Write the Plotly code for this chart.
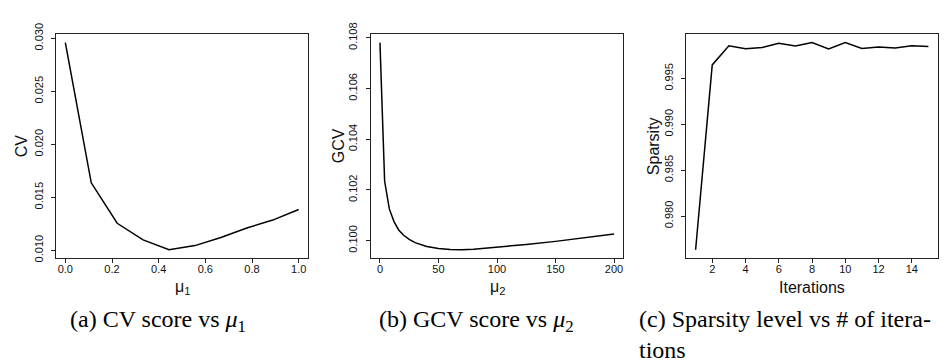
import plotly.graph_objects as go

# ---- data ----
mu1 = [0.0, 1/9, 2/9, 3/9, 4/9, 5/9, 6/9, 7/9, 8/9, 1.0]
cv = [0.0296, 0.01637, 0.01255, 0.01098, 0.01005, 0.01044, 0.0112, 0.0121, 0.01285, 0.01385]

mu2 = [0, 4, 8, 12, 16, 20, 25, 30, 40, 50, 60, 70, 80, 100, 125, 150, 175, 200]
gcv = [0.10781, 0.10234, 0.10125, 0.10075, 0.10042, 0.10022, 0.10005, 0.09992, 0.09977,
       0.09969, 0.09965, 0.09964, 0.09966, 0.09974, 0.09985, 0.09997, 0.10011, 0.10026]

iters = list(range(1, 16))
sparsity = [0.97634, 0.99647, 0.99856, 0.99823, 0.99838, 0.99883, 0.99852, 0.99890,
            0.99820, 0.99890, 0.99827, 0.99841, 0.99831, 0.99855, 0.99848]

x_ticks_a = [0.0, 0.2, 0.4, 0.6, 0.8, 1.0]
y_ticks_a = [0.010, 0.015, 0.020, 0.025, 0.030]
x_ticks_b = [0, 50, 100, 150, 200]
y_ticks_b = [0.100, 0.102, 0.104, 0.106, 0.108]
x_ticks_c = [2, 4, 6, 8, 10, 12, 14]
y_ticks_c = [0.980, 0.985, 0.990, 0.995]

captions = ["(a) CV score vs <i>μ</i><sub>1</sub>",
            "(b) GCV score vs <i>μ</i><sub>2</sub>",
            "(c) Sparsity level vs # of itera-<br>tions"]

W, H = 951, 363

def px(x):
    return x / W

def py(y):
    return 1 - y / H

fig = go.Figure()
line = dict(color="black", width=1.5)
fig.add_trace(go.Scatter(x=mu1, y=cv, mode="lines", line=line, xaxis="x", yaxis="y"))
fig.add_trace(go.Scatter(x=mu2, y=gcv, mode="lines", line=line, xaxis="x2", yaxis="y2"))
fig.add_trace(go.Scatter(x=iters, y=sparsity, mode="lines", line=line, xaxis="x3", yaxis="y3"))

def rng(vals):
    a, b = min(vals), max(vals)
    d = (b - a) * 0.04
    return [a - d, b + d]

ydom = [py(249), py(15)]
tickfont = dict(family="Liberation Sans, Arial", size=11, color="#111")
common_x = dict(showline=True, linecolor="#222", linewidth=1, mirror=True, ticks="outside",
                ticklen=4, tickcolor="#222", showgrid=False, zeroline=False, tickfont=tickfont,
                ticklabelstandoff=-3)
common_y = dict(common_x)
common_y["tickangle"] = -90
common_y["ticklabelstandoff"] = 4

fig.update_layout(
    width=W, height=H, margin=dict(l=0, r=0, t=0, b=0),
    plot_bgcolor="white", paper_bgcolor="white", showlegend=False,
    xaxis=dict(common_x, domain=[px(48), px(300)], range=rng(mu1), tickvals=x_ticks_a,
               ticktext=[f"{v:.1f}" for v in x_ticks_a], anchor="y"),
    yaxis=dict(common_y, domain=ydom, range=rng(cv), tickvals=y_ticks_a,
               ticktext=[f"{v:.3f}" for v in y_ticks_a], anchor="x"),
    xaxis2=dict(common_x, domain=[px(362.6), px(615.4)], range=rng(mu2), tickvals=x_ticks_b,
                ticktext=[str(v) for v in x_ticks_b], anchor="y2"),
    yaxis2=dict(common_y, domain=ydom, range=rng(gcv), tickvals=y_ticks_b,
                ticktext=[f"{v:.3f}" for v in y_ticks_b], anchor="x2"),
    xaxis3=dict(common_x, domain=[px(678.3), px(929.7)], range=rng(iters), tickvals=x_ticks_c,
                ticktext=[str(v) for v in x_ticks_c], anchor="y3"),
    yaxis3=dict(common_y, domain=ydom, range=rng(sparsity), tickvals=y_ticks_c,
                ticktext=[f"{v:.3f}" for v in y_ticks_c], anchor="x3"),
)

title_font = dict(family="Liberation Sans, Arial", size=16, color="#111")
ann = []
# x-axis titles
for x, txt in [(174, "μ<sub>1</sub>"), (489, "μ<sub>2</sub>"), (804, "Iterations")]:
    ann.append(dict(x=px(x), y=py(280), xref="paper", yref="paper", text=txt, showarrow=False,
                    font=title_font, xanchor="center", yanchor="middle"))
# y-axis titles
for x, txt in [(13, "CV"), (330, "GCV"), (645, "Sparsity")]:
    ann.append(dict(x=px(x), y=py(132), xref="paper", yref="paper", text=txt, showarrow=False,
                    font=title_font, textangle=-90, xanchor="center", yanchor="middle"))
# captions
cap_font = dict(family="Liberation Serif, Times New Roman", size=24, color="black")
for x, txt in [(60, captions[0]), (369, captions[1]), (629, captions[2])]:
    ann.append(dict(x=px(x), y=py(297), xref="paper", yref="paper", text=txt, showarrow=False,
                    font=cap_font, xanchor="left", yanchor="top", align="left"))
fig.update_layout(annotations=ann)

fig.write_html("out.html")
